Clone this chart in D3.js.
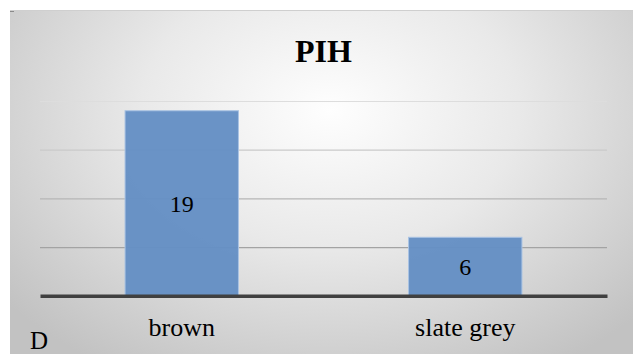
<!DOCTYPE html>
<html>
<head>
<meta charset="utf-8">
<script src="https://cdn.jsdelivr.net/npm/d3@7"></script>
</head>
<body style="margin:0">
<script>
// Chart data
const title = "PIH";
const categories = ["brown", "slate grey"];
const values = [19, 6];
const yTicks = [0, 5, 10, 15, 20];
const cornerNote = "D";

const W = 633, H = 354;
const plot = { left: 40, right: 607, top: 101, bottom: 295.7 };
const FONT = "Liberation Serif";

const svg = d3.select("body").append("svg")
  .attr("width", W).attr("height", H)
  .attr("font-family", FONT);

const defs = svg.append("defs");
const bg = defs.append("radialGradient")
  .attr("id", "bgGrad")
  .attr("gradientUnits", "userSpaceOnUse")
  .attr("cx", 330).attr("cy", 110).attr("r", 420)
  .attr("gradientTransform", "translate(330,110) scale(1,0.72) translate(-330,-110)");
bg.append("stop").attr("offset", "0").attr("stop-color", "#fefefe");
bg.append("stop").attr("offset", "0.45").attr("stop-color", "#e9e9e9");
bg.append("stop").attr("offset", "1").attr("stop-color", "#c2c2c2");

// Chart panel
svg.append("rect")
  .attr("x", 10).attr("y", 10)
  .attr("width", W - 10).attr("height", H - 10)
  .attr("fill", "url(#bgGrad)");
svg.append("line")
  .attr("x1", 10).attr("x2", W).attr("y1", 10.5).attr("y2", 10.5)
  .attr("stroke", "#cfcfcf").attr("stroke-width", 1);
svg.append("line")
  .attr("x1", 10).attr("x2", 14).attr("y1", 11.5).attr("y2", 11.5)
  .attr("stroke", "#8a8a8a").attr("stroke-width", 1);

const x = d3.scaleBand()
  .domain(categories)
  .range([plot.left, plot.right])
  .paddingInner(0.6)
  .paddingOuter(0.3);

const y = d3.scaleLinear()
  .domain([0, d3.max(yTicks)])
  .range([plot.bottom, plot.top]);

// Gridlines, shaded darker toward the bottom
const gridShade = d3.scaleLinear()
  .domain([plot.top, plot.bottom])
  .range(["#dddddd", "#8f8f8f"]);

const yAxis = d3.axisLeft(y)
  .tickValues(yTicks.filter(t => t > 0))
  .tickSize(-(plot.right - plot.left))
  .tickFormat("");
const gy = svg.append("g")
  .attr("transform", `translate(${plot.left},0)`)
  .call(yAxis);
gy.select(".domain").remove();
gy.selectAll(".tick line")
  .attr("stroke", d => gridShade(y(d)))
  .attr("stroke-width", 1.2);

// Bars
svg.append("g").selectAll("rect")
  .data(values)
  .join("rect")
  .attr("x", (d, i) => x(categories[i]))
  .attr("y", d => y(d))
  .attr("width", x.bandwidth())
  .attr("height", d => y(0) - y(d))
  .attr("fill", "#6590c4")
  .attr("fill-opacity", 0.97)
  .attr("stroke", "#a9c3e3")
  .attr("stroke-width", 1);

// Value labels in the middle of each bar
svg.append("g").selectAll("text")
  .data(values)
  .join("text")
  .attr("x", (d, i) => x(categories[i]) + x.bandwidth() / 2)
  .attr("y", d => (y(d) + y(0)) / 2 + 9)
  .attr("text-anchor", "middle")
  .attr("font-family", FONT)
  .attr("font-size", 24)
  .text(d => d);

// Category axis
const xAxis = d3.axisBottom(x).tickSize(0).tickPadding(0);
const gx = svg.append("g")
  .attr("transform", `translate(0,${plot.bottom})`)
  .call(xAxis)
  .attr("font-family", FONT)
  .attr("font-size", 26);
gx.select(".domain")
  .attr("stroke", "#404040")
  .attr("stroke-width", 3.6);
gx.selectAll(".tick text")
  .attr("y", 40.5)
  .attr("dy", 0)
  .attr("fill", "#000");

// Title
svg.append("text")
  .attr("x", 323.5).attr("y", 61.5)
  .attr("text-anchor", "middle")
  .attr("font-family", FONT)
  .attr("font-size", 32)
  .attr("font-weight", "bold")
  .text(title);

// Corner note
svg.append("text")
  .attr("x", 30).attr("y", 349)
  .attr("font-family", FONT)
  .attr("font-size", 25)
  .text(cornerNote);
</script>
</body>
</html>
